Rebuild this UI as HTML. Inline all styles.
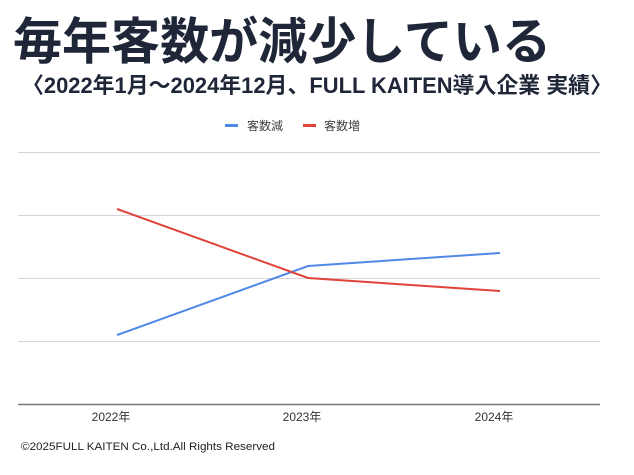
<!DOCTYPE html>
<html><head><meta charset="utf-8"><style>
html,body{margin:0;padding:0;background:#fff;width:634px;height:475px;overflow:hidden}
svg{display:block}
</style></head><body>
<svg width="634" height="475" viewBox="0 0 634 475" xmlns="http://www.w3.org/2000/svg">
<text x="13" y="59" font-family="'Liberation Sans','Noto Sans CJK JP',sans-serif" font-weight="bold" font-size="50" fill="#1e2638" textLength="538" lengthAdjust="spacingAndGlyphs">毎年客数が減少している</text>
<text x="22" y="93" font-family="'Liberation Sans','Noto Sans CJK JP',sans-serif" font-weight="bold" font-size="22" fill="#1e2638" textLength="590" lengthAdjust="spacingAndGlyphs">〈2022年1月～2024年12月、FULL KAITEN導入企業 実績〉</text>
<g font-family="'Liberation Sans','Noto Sans CJK JP',sans-serif" font-size="12" fill="#444">
<rect x="225" y="124" width="13" height="3" fill="#4f88e8"/>
<text x="247" y="130">客数減</text>
<rect x="303" y="124" width="13" height="3" fill="#e0433a"/>
<text x="324" y="130">客数増</text>
</g>
<g stroke="#d6d6d6" stroke-width="1">
<line x1="18" y1="152.5" x2="600" y2="152.5"/>
<line x1="18" y1="215.5" x2="600" y2="215.5"/>
<line x1="18" y1="278.5" x2="600" y2="278.5"/>
<line x1="18" y1="341.5" x2="600" y2="341.5"/>
</g>
<line x1="18" y1="404.5" x2="600" y2="404.5" stroke="#777" stroke-width="1.5"/>
<polyline points="117,335 308,266 500,253" fill="none" stroke="#4f88e8" stroke-width="2"/>
<polyline points="117,209 308,278 500,291" fill="none" stroke="#e0433a" stroke-width="2"/>
<g font-family="'Liberation Sans','Noto Sans CJK JP',sans-serif" font-size="12" fill="#333" text-anchor="middle">
<text x="111" y="421">2022年</text>
<text x="302" y="421">2023年</text>
<text x="494" y="421">2024年</text>
</g>
<text x="21" y="450" font-family="'Liberation Sans',sans-serif" font-size="11" fill="#222" textLength="254" lengthAdjust="spacingAndGlyphs">©2025FULL KAITEN Co.,Ltd.All Rights Reserved</text>
</svg>
</body></html>
